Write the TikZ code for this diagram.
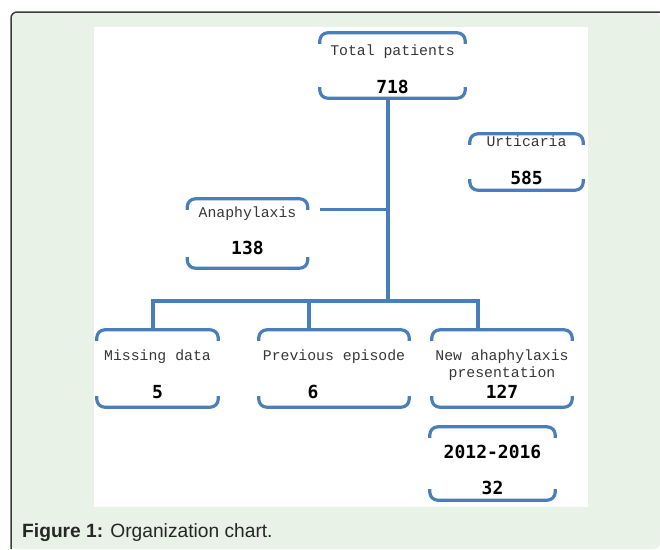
\documentclass[tikz,border=0pt]{standalone}
\usepackage{fontspec}
\setmainfont{Liberation Sans}
\setmonofont{Liberation Mono}
\newfontfamily\numfamily{DejaVu Sans Mono}
\usetikzlibrary{calc}
\definecolor{chartBlue}{RGB}{74,126,187}
\definecolor{panelGreen}{RGB}{232,242,230}
\definecolor{frameGray}{RGB}{60,60,60}
\definecolor{labelGray}{RGB}{55,55,55}
\newcommand{\lblfont}{\ttfamily\fontsize{14.8}{17}\selectfont}
\newcommand{\numfont}{\numfamily\bfseries\fontsize{18}{21}\selectfont\color{black}}
\newcommand{\up}[1]{\rule{0pt}{#1pt}}
\newcommand{\dn}[1]{\rule[-#1pt]{0pt}{#1pt}}
% brackets above and below a box
\newcommand{\bracepair}[1]{%
  \draw[braceline] ([yshift=-11pt]#1.north west) |- (#1.north) -| ([yshift=-11pt]#1.north east);
  \draw[braceline] ([yshift=11pt]#1.south west) |- (#1.south) -| ([yshift=11pt]#1.south east);}
\tikzset{
  bracebox/.style={inner ysep=0pt, inner xsep=0pt, align=center, font=\lblfont, text=labelGray},
  braceline/.style={draw=chartBlue, line width=3.2pt, rounded corners=8pt},
  link/.style={draw=chartBlue, line width=3.6pt},
  thinlink/.style={draw=chartBlue, line width=3pt}
}

\begin{document}
\begin{tikzpicture}[x=1pt, y=-1pt]
    \useasboundingbox (0,0) rectangle (660,549);
    % panels
    \fill[panelGreen, rounded corners=6pt] (11,549) -- (11,12) -- (660,12) -- (660,549) -- cycle;
    \draw[frameGray, line width=1.5pt, rounded corners=6pt] (11,549) -- (11,12) -- (660,12);
    \fill[white] (94,27) rectangle (588,507);
    % boxes
    \node[bracebox, minimum width=145pt] (total) at (392.5,65.5)
        {\up{22}Total patients\\[21.5pt]\numfont 718\dn{4.5}};
    \node[bracebox, minimum width=113pt] (urticaria) at (526.5,162)
        {\up{12}Urticaria\\[21.5pt]\numfont 585\dn{5.5}};
    \node[bracebox, minimum width=120pt] (anaph) at (247.5,233.5)
        {\up{18}Anaphylaxis\\[20.5pt]\numfont 138\dn{13.5}};
    \node[bracebox, minimum width=121pt] (missing) at (157.5,368.5)
        {\up{30}Missing data\\[21.5pt]\numfont 5\dn{8.5}};
    \node[bracebox, minimum width=150pt] (previous) at (334,368.5)
        {\up{30}Previous episode\\[21.5pt]\numfont 6\hspace{42pt}\dn{8.5}};
    \node[bracebox, minimum width=140pt] (new) at (502,368.5)
        {\up{30}New ahaphylaxis\\presentation\\[4.5pt]\numfont 127\dn{8.5}};
    \node[bracebox, minimum width=125pt] (years) at (492.5,463.5)
        {\numfont\up{31.5}2012-2016\\[19pt]\numfont 32\dn{5.5}};
    \foreach \b in {total,urticaria,anaph,missing,previous,new,years}
        \bracepair{\b};
    % connectors
    \coordinate (hub) at (388,301);
    \coordinate (barL) at (153,301);
    \coordinate (barM) at (309,301);
    \coordinate (barR) at (478,301);
    \coordinate (anatip) at (320,209);
    \draw[link] (hub |- total.south) -- (hub);
    \draw[link, line join=miter] (barL |- missing.north) -- (barL) -- (barR) -- (barR |- new.north);
    \draw[link] (barM) -- (barM |- previous.north);
    \draw[thinlink] (anatip) -- (anatip -| hub);
    % caption
    \node[anchor=west, font=\fontsize{19.2}{23}\selectfont, text=black!85, inner sep=0pt] (caption) at (22,533)
        {\textbf{Figure 1:} Organization chart.};
\end{tikzpicture}
\end{document}
